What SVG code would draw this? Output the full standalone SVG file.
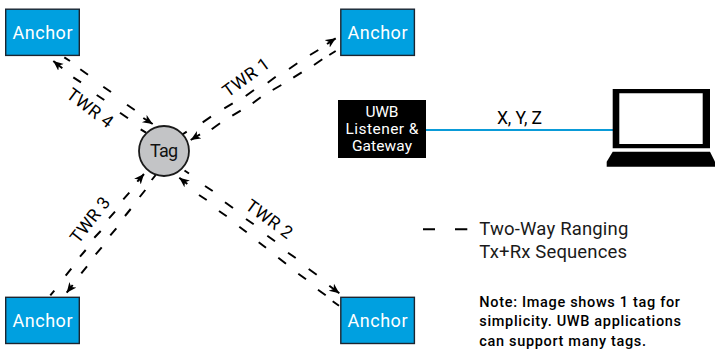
<svg xmlns="http://www.w3.org/2000/svg" width="715" height="349" viewBox="0 0 715 349">
<style>
text{font-family:"Roboto","Liberation Sans",sans-serif}
.anchor rect{fill:#00a0e0;stroke:#1c2530;stroke-width:1.4}
.anchor text{fill:#fff;font-size:18px;text-anchor:middle}
.dash{fill:none;stroke:#000;stroke-width:2;marker-end:url(#arrow)}
.lbl{fill:#000;font-size:17.5px;text-anchor:middle}
.gw{fill:#fff;font-size:15.5px;text-anchor:middle}
.leg{fill:#1a1a1a;font-size:18.5px}
.note{fill:#000;font-size:14.5px;font-weight:500}
</style>
<defs>
<marker id="arrow" markerUnits="userSpaceOnUse" markerWidth="12" markerHeight="12" refX="10" refY="5" orient="auto">
<path d="M10 5L0 0.6L2.8 5L0 9.4Z" fill="#000"/>
</marker>
</defs>
<g id="connectors">
<path class="dash" d="M181.7 135L186.7 131.7M202.7 122.3L211 116.7M224.3 108.3L232.7 103.3M245.7 96L254 90M267.7 82.7L275.7 76.7M289 69L297.3 63.3M310 55L318.3 50M327 44L335.7 38.3"/>
<path class="dash" d="M335.7 51L329.3 55M322.3 59.3L314 65M301.7 72.3L293.3 77.7M281.3 85L272.7 90M260.7 97.3L252.7 103.3M240.7 110.7L232.3 115.7M220 123.3L211.7 129.3M200 134.3L190.7 140"/>
<path class="dash" d="M184.5 170.5L189 173.5M205 186L212.7 191M225 202.3L233 208M246 219L253.7 224.3M267.3 235.7L275 241.3M288 252.7L295.7 258M308.7 269L316.7 274.7M329.3 285.7L339.3 293.3"/>
<path class="dash" d="M339 305.7L332.7 301.3M325.7 295.3L318 289.7M306 279.3L298.3 273.7M286 263.7L278.3 257.7M266 247.7L258.7 242.3M246.7 232.3L239.3 226.7M226.7 216.3L219 211M206.7 200L199 195M187.3 184L179.3 177.7"/>
<path class="dash" d="M50.3 295.3L54.3 290.7M65.7 275.7L71.3 268.7M80 256.7L85.7 250M94.3 237.7L100.7 231M109 218.3L115 211.7M123.3 199.3L129.3 192.7M137.3 181.7L144 174"/>
<path class="dash" d="M155.7 175L151.7 180M145.3 190L139.7 197M130.7 209L125 216M116.3 228.3L110.3 235.3M101.7 247.3L95.7 254.3M87 266.3L81.3 273.3M72.7 285L66.7 292.7"/>
<path class="dash" d="M64.3 57.3L70 61M80.3 69.3L88 74.7M103.3 86.7L111 92M127 104.7L134.7 110M143.3 118L152.7 124"/>
<path class="dash" d="M146 132.7L140.7 129.3M128 118.3L120 112.7M104.3 100L96.7 95M81 82.3L73.3 77.3M62.3 68.3L53.3 61"/>
<path d="M426 130H613" fill="none" stroke="#0a9bd8" stroke-width="2"/>
</g>
<g id="anchor-tl" class="anchor"><rect x="5.7" y="9.2" width="73.6" height="46.2"/><text x="42.5" y="38.5" textLength="60">Anchor</text></g>
<g id="anchor-tr" class="anchor"><rect x="340.8" y="9.2" width="73.6" height="46.2"/><text x="377.5" y="38.5" textLength="60">Anchor</text></g>
<g id="anchor-bl" class="anchor"><rect x="5.7" y="297.3" width="73.6" height="46.2"/><text x="42.5" y="326.5" textLength="60">Anchor</text></g>
<g id="anchor-br" class="anchor"><rect x="340.8" y="297.3" width="73.6" height="46.2"/><text x="377.5" y="326.5" textLength="60">Anchor</text></g>
<g id="tag"><circle cx="164" cy="151" r="25" fill="#c3c4c6" stroke="#1a1a1a" stroke-width="1.8"/><text x="164" y="157" font-size="18" text-anchor="middle" fill="#111" textLength="28">Tag</text></g>
<g id="labels">
<text class="lbl" transform="translate(246 77.3) rotate(-36)" y="6" textLength="53">TWR 1</text>
<text class="lbl" transform="translate(269.3 219) rotate(36)" y="6" textLength="53">TWR 2</text>
<text class="lbl" transform="translate(90 220) rotate(-52)" y="6" textLength="53">TWR 3</text>
<text class="lbl" transform="translate(90 108) rotate(37)" y="6" textLength="53">TWR 4</text>
<text class="lbl" x="519.5" y="123.5" textLength="45">X, Y, Z</text>
</g>
<g id="gateway"><rect x="338" y="100" width="88" height="58" fill="#000"/>
<text class="gw" x="382" y="117.3" textLength="33">UWB</text>
<text class="gw" x="382" y="134" textLength="73">Listener &amp;</text>
<text class="gw" x="382" y="150.7" textLength="60">Gateway</text></g>
<g id="laptop">
<path fill-rule="evenodd" d="M612.7 89H710V148.3H612.7ZM619.3 93.3V144H702.7V93.3Z" fill="#000"/>
<path d="M612.7 151.7H710L715 161.7V166.7H606.7V161.7Z" fill="#000"/>
</g>
<g id="legend">
<path d="M423 229.3H435M455 229.3H467.3" fill="none" stroke="#000" stroke-width="2"/>
<text class="leg" x="479.3" y="235" textLength="149">Two-Way Ranging</text>
<text class="leg" x="479.3" y="258.3" textLength="147.7">Tx+Rx Sequences</text>
<text class="note" x="479.3" y="306.7" textLength="200.7">Note: Image shows 1 tag for</text>
<text class="note" x="479.3" y="326" textLength="201.7">simplicity. UWB applications</text>
<text class="note" x="479.3" y="345.5" textLength="166.7">can support many tags.</text>
</g>
</svg>
